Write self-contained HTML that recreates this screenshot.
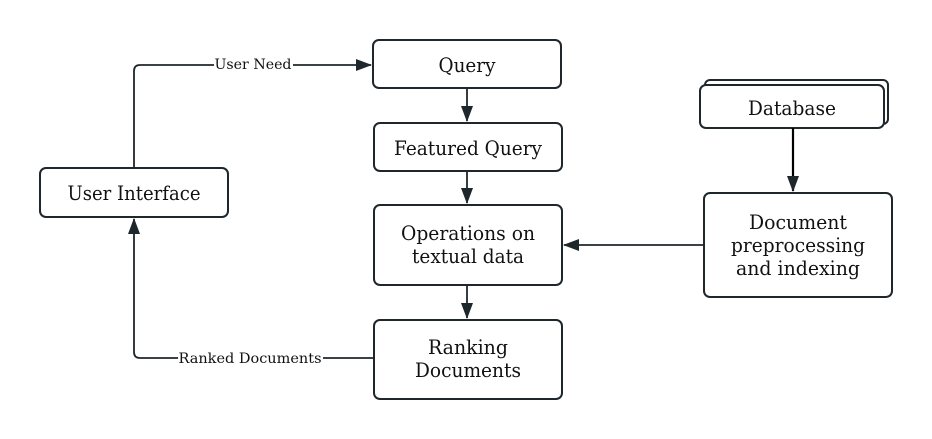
<!DOCTYPE html>
<html><head><meta charset="utf-8"><style>
html,body{margin:0;padding:0;background:#fff;width:932px;height:439px;overflow:hidden}
svg text{font-family:"DejaVu Serif","Liberation Serif",serif;fill:#111}
</style></head><body>
<svg width="932" height="439" viewBox="0 0 932 439" xmlns="http://www.w3.org/2000/svg">
<defs>
<marker id="a" markerWidth="16" markerHeight="12" refX="15" refY="6" orient="auto" markerUnits="userSpaceOnUse">
<path d="M0,0 L16,6 L0,12 Z" fill="#1e272b"/></marker>
</defs>
<g fill="#fff" stroke="#1e272b" stroke-width="2">
<rect x="373" y="40" width="188" height="48" rx="6"/>
<rect x="374" y="123" width="188" height="48" rx="6"/>
<rect x="374" y="205" width="188" height="80" rx="6"/>
<rect x="374" y="320" width="188" height="79" rx="6"/>
<rect x="40" y="168" width="188" height="49" rx="6"/>
<rect x="705" y="80" width="183" height="44" rx="5"/>
<rect x="700" y="85" width="184" height="43" rx="6"/>
<rect x="704" y="193" width="188" height="104" rx="6"/>
</g>
<g fill="none" stroke="#1e272b" stroke-width="1.8">
<path d="M134,168 V71 Q134,65 140,65 H214 M293,65 H371" marker-end="url(#a)"/>
<path d="M467,88 V121" marker-end="url(#a)"/>
<path d="M467,171 V203" marker-end="url(#a)"/>
<path d="M467,285 V318" marker-end="url(#a)"/>
<path d="M704,245 H564" marker-end="url(#a)"/>
<path d="M793,128 V191" stroke="#000" stroke-width="2.2" marker-end="url(#a)"/>
<path d="M374,358 H323 M178,358 H140 Q134,358 134,352 V219" marker-end="url(#a)"/>
</g>
<g font-size="20" text-anchor="middle">
<text x="467" y="72" textLength="57" lengthAdjust="spacingAndGlyphs">Query</text>
<text x="468" y="155" textLength="148" lengthAdjust="spacingAndGlyphs">Featured Query</text>
<text x="468" y="240" textLength="134" lengthAdjust="spacingAndGlyphs">Operations on</text>
<text x="468" y="263" textLength="112" lengthAdjust="spacingAndGlyphs">textual data</text>
<text x="468" y="354" textLength="80" lengthAdjust="spacingAndGlyphs">Ranking</text>
<text x="468" y="377" textLength="106" lengthAdjust="spacingAndGlyphs">Documents</text>
<text x="134" y="200" textLength="133" lengthAdjust="spacingAndGlyphs">User Interface</text>
<text x="792" y="115" textLength="88" lengthAdjust="spacingAndGlyphs">Database</text>
<text x="798" y="229" textLength="98" lengthAdjust="spacingAndGlyphs">Document</text>
<text x="798" y="252" textLength="134" lengthAdjust="spacingAndGlyphs">preprocessing</text>
<text x="798" y="275" textLength="124" lengthAdjust="spacingAndGlyphs">and indexing</text>
</g>
<g font-size="14" text-anchor="middle">
<text x="253" y="69" textLength="77" lengthAdjust="spacingAndGlyphs" fill="#333">User Need</text>
<text x="250" y="363" textLength="143" lengthAdjust="spacingAndGlyphs" fill="#333">Ranked Documents</text>
</g>
</svg>
</body></html>
